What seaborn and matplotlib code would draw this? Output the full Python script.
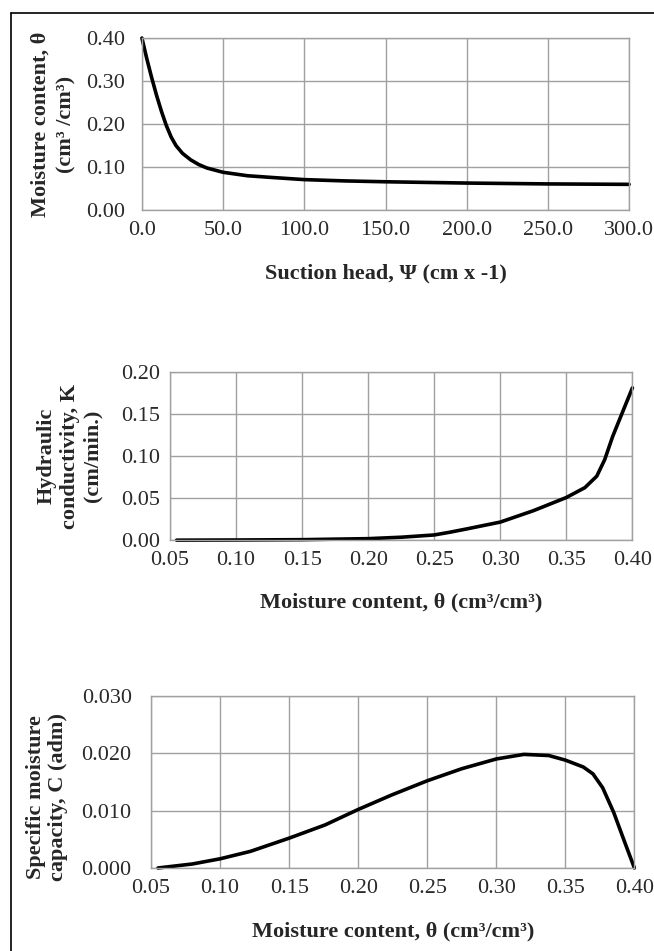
import matplotlib
matplotlib.use("Agg")
import matplotlib.pyplot as plt
from matplotlib.lines import Line2D
import seaborn as sns
import pandas as pd

# ── Data ──────────────────────────────────────────────────────────────────────
psi = [0, 3, 6, 9, 12, 15, 18, 21, 25, 30, 35, 40, 50, 65, 80, 100, 125, 150,
       200, 250, 300]
theta_psi = [0.400, 0.352, 0.308, 0.267, 0.230, 0.197, 0.170, 0.150, 0.132,
             0.117, 0.106, 0.098, 0.088, 0.080, 0.076, 0.071, 0.068, 0.066,
             0.063, 0.061, 0.060]

theta_k = [0.055, 0.10, 0.15, 0.20, 0.225, 0.25, 0.262, 0.275, 0.30, 0.325,
           0.35, 0.364, 0.373, 0.379, 0.385, 0.393, 0.400]
k_vals = [0.0, 0.0002, 0.0006, 0.0018, 0.0035, 0.0062, 0.0095, 0.0135, 0.0215,
          0.035, 0.0507, 0.0624, 0.076, 0.0956, 0.123, 0.154, 0.181]

theta_c = [0.055, 0.08, 0.10, 0.122, 0.15, 0.176, 0.20, 0.224, 0.25, 0.275,
           0.30, 0.32, 0.338, 0.35, 0.363, 0.37, 0.377, 0.385, 0.393, 0.400]
c_vals = [0.0, 0.0007, 0.0016, 0.0029, 0.0052, 0.0075, 0.0102, 0.0127, 0.0152,
          0.0173, 0.0190, 0.0198, 0.0196, 0.0188, 0.0176, 0.0164, 0.0140,
          0.0097, 0.0045, 0.0]

PANELS = [
    dict(x=psi, y=theta_psi, xlim=(0, 300), ylim=(0, 0.40),
         xticks=[0, 50, 100, 150, 200, 250, 300], xfmt="{:.1f}",
         yticks=[0, 0.1, 0.2, 0.3, 0.4], yfmt="{:.2f}",
         xlabel="Suction head, \u03a8 (cm x -1)",
         ylabel="Moisture content, \u03b8\n(cm\u00b3 /cm\u00b3)"),
    dict(x=theta_k, y=k_vals, xlim=(0.05, 0.40), ylim=(0, 0.20),
         xticks=[0.05, 0.10, 0.15, 0.20, 0.25, 0.30, 0.35, 0.40], xfmt="{:.2f}",
         yticks=[0, 0.05, 0.10, 0.15, 0.20], yfmt="{:.2f}",
         xlabel="Moisture content, \u03b8 (cm\u00b3/cm\u00b3)",
         ylabel="Hydraulic\nconductivity, K\n(cm/min.)"),
    dict(x=theta_c, y=c_vals, xlim=(0.05, 0.40), ylim=(0, 0.030),
         xticks=[0.05, 0.10, 0.15, 0.20, 0.25, 0.30, 0.35, 0.40], xfmt="{:.2f}",
         yticks=[0, 0.01, 0.02, 0.03], yfmt="{:.3f}",
         xlabel="Moisture content, \u03b8 (cm\u00b3/cm\u00b3)",
         ylabel="Specific moisture\ncapacity, C (adm)"),
]

# axes rectangles [left, bottom, width, height] and label anchors
RECTS = [
    [0.217, 0.779, 0.745, 0.181],
    [0.260, 0.432, 0.707, 0.177],
    [0.231, 0.0873, 0.739, 0.181],
]
YLABEL_X = [-0.135, -0.146, -0.172]
YLABEL_Y = [0.5, 0.5, 0.41]
YPAD = [8, 3, 10]
YLINESP = [1.35, 1.2, 1.1]

# ── Style ─────────────────────────────────────────────────────────────────────
sns.set_style("white")
plt.rcParams["font.family"] = ["Liberation Serif", "DejaVu Serif"]
GRID = "#a0a0a0"

fig = plt.figure(figsize=(6.54, 9.51), dpi=100)

for p, rect, lx, ly, ypad, lsp in zip(PANELS, RECTS, YLABEL_X, YLABEL_Y,
                                      YPAD, YLINESP):
    ax = fig.add_axes(rect)
    df = pd.DataFrame({"x": p["x"], "y": p["y"]})
    sns.lineplot(data=df, x="x", y="y", ax=ax, color="black", linewidth=2.6,
                 sort=False, estimator=None, clip_on=False,
                 solid_joinstyle="round", solid_capstyle="round")
    ax.set_xlim(*p["xlim"])
    ax.set_ylim(*p["ylim"])
    ax.set_xticks(p["xticks"])
    ax.set_xticklabels([p["xfmt"].format(v) for v in p["xticks"]])
    ax.set_yticks(p["yticks"])
    ax.set_yticklabels([p["yfmt"].format(v) for v in p["yticks"]])
    ax.grid(True, color=GRID, linewidth=1.0)
    ax.set_axisbelow(True)
    for s in ax.spines.values():
        s.set_color(GRID)
        s.set_linewidth(1.0)
    ax.tick_params(axis="both", direction="out", length=4, width=1.0,
                   color=GRID, labelsize=16, labelcolor="#2a2a2a")
    ax.tick_params(axis="x", pad=4)
    ax.tick_params(axis="y", pad=ypad)
    ax.set_xlabel(p["xlabel"], fontsize=16, fontweight="bold", va="top")
    ax.xaxis.set_label_coords(0.5, -0.31)
    ax.set_ylabel(p["ylabel"], fontsize=16, fontweight="bold",
                  linespacing=lsp)
    ax.yaxis.set_label_coords(lx, ly)

# outer frame (top and left edges visible in the reference)
fig.add_artist(Line2D([11 / 654, 1.0], [1 - 13 / 951, 1 - 13 / 951],
                      color="black", linewidth=1.2))
fig.add_artist(Line2D([11 / 654, 11 / 654], [1 - 13 / 951, 0.0],
                      color="black", linewidth=1.2))

fig.savefig("out.png", dpi=100)
